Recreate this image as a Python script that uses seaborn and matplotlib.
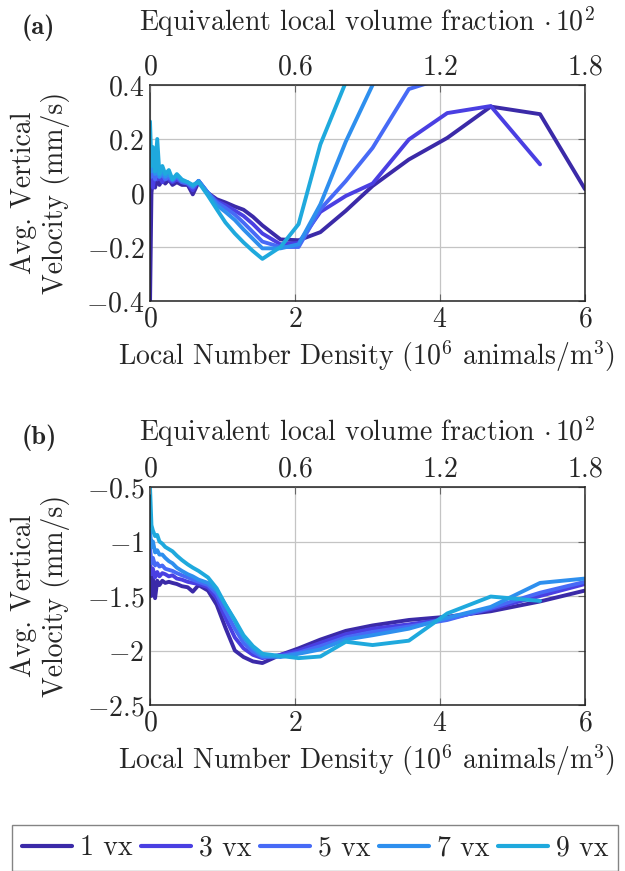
import numpy as np
import pandas as pd
import matplotlib
matplotlib.use("Agg")
import matplotlib.pyplot as plt
import seaborn as sns

# Local number density (10^6 animals/m^3), shared by every series
density = [0.0, 0.02, 0.04, 0.07, 0.1, 0.13, 0.17, 0.21, 0.26, 0.31, 0.37, 0.44,
           0.52, 0.59, 0.67, 0.8, 0.92, 1.04, 1.17, 1.29, 1.42, 1.55, 1.8, 2.05,
           2.35, 2.7, 3.07, 3.57, 4.1, 4.7, 5.38, 6.0]

series_names = ["1 vx", "3 vx", "5 vx", "7 vx", "9 vx"]
series_colors = ["#3b2aa8", "#4a3fe2", "#476af6", "#2e8fee", "#1fa9dd"]

nan = np.nan

# (a) average vertical velocity, mm/s
vel_a_1 = [-0.42, 0.0, 0.05, 0.02, 0.06, 0.03, 0.05, 0.035, 0.05, 0.03, 0.04, 0.03,
           0.03, -0.005, 0.04, 0.0, -0.023, -0.035, -0.05, -0.062, -0.088, -0.12,
           -0.172, -0.175, -0.145, -0.066, 0.026, 0.124, 0.204, 0.32, 0.292, 0.014]
vel_a_3 = [0.03, 0.07, 0.02, 0.08, 0.05, 0.06, 0.04, 0.06, 0.05, 0.04, 0.05, 0.04,
           0.035, 0.01, 0.045, 0.0, -0.03, -0.045, -0.065, -0.085, -0.115, -0.15,
           -0.19, -0.185, -0.07, -0.011, 0.035, 0.198, 0.296, 0.322, 0.106, nan]
vel_a_5 = [0.1, 0.06, 0.1, 0.05, 0.08, 0.06, 0.07, 0.05, 0.06, 0.045, 0.06, 0.04,
           0.035, 0.02, 0.045, 0.0, -0.035, -0.055, -0.08, -0.11, -0.145, -0.18,
           -0.2, -0.2, -0.06, 0.044, 0.167, 0.385, 0.43, nan, nan, nan]
vel_a_7 = [0.15, 0.08, 0.13, 0.07, 0.09, 0.06, 0.08, 0.06, 0.07, 0.05, 0.065, 0.045,
           0.04, 0.025, 0.045, 0.0, -0.045, -0.07, -0.1, -0.135, -0.17, -0.205,
           -0.205, -0.19, -0.042, 0.19, 0.40, 0.65, nan, nan, nan, nan]
vel_a_9 = [0.265, 0.1, 0.17, 0.08, 0.2, 0.07, 0.1, 0.07, 0.085, 0.05, 0.07, 0.05,
           0.04, 0.03, 0.04, -0.01, -0.06, -0.109, -0.15, -0.183, -0.215, -0.244,
           -0.2, -0.115, 0.18, 0.41, 0.65, nan, nan, nan, nan, nan]

# (b) average vertical velocity, mm/s
vel_b_1 = [-1.15, -1.5, -1.33, -1.52, -1.36, -1.4, -1.36, -1.38, -1.37, -1.38, -1.39,
           -1.41, -1.42, -1.46, -1.4, -1.45, -1.58, -1.79, -2.0, -2.06, -2.1, -2.115,
           -2.04, -1.98, -1.9, -1.82, -1.77, -1.72, -1.69, -1.64, -1.55, -1.45]
vel_b_3 = [-1.2, -1.3, -1.25, -1.33, -1.28, -1.32, -1.29, -1.3, -1.32, -1.31, -1.34,
           -1.35, -1.37, -1.38, -1.39, -1.42, -1.52, -1.7, -1.88, -1.98, -2.04, -2.07,
           -2.04, -2.0, -1.93, -1.85, -1.8, -1.76, -1.71, -1.62, -1.5, -1.39]
vel_b_5 = [-1.05, -1.2, -1.15, -1.22, -1.2, -1.23, -1.22, -1.25, -1.26, -1.27, -1.29,
           -1.31, -1.33, -1.35, -1.37, -1.4, -1.48, -1.64, -1.8, -1.93, -2.01, -2.06,
           -2.05, -2.02, -1.96, -1.88, -1.83, -1.78, -1.72, -1.61, -1.47, -1.37]
vel_b_7 = [-0.9, -1.05, -1.0, -1.1, -1.08, -1.12, -1.12, -1.15, -1.18, -1.2, -1.24,
           -1.27, -1.3, -1.32, -1.35, -1.38, -1.45, -1.58, -1.73, -1.88, -1.98, -2.05,
           -2.06, -2.03, -1.99, -1.9, -1.86, -1.8, -1.7, -1.6, -1.38, -1.34]
vel_b_9 = [-0.5, -0.85, -0.9, -0.95, -0.94, -1.0, -1.02, -1.05, -1.07, -1.09, -1.13,
           -1.17, -1.21, -1.24, -1.27, -1.33, -1.43, -1.58, -1.72, -1.86, -1.96, -2.03,
           -2.05, -2.07, -2.055, -1.92, -1.95, -1.91, -1.66, -1.505, -1.545, nan]

density_ticks = [0, 2, 4, 6]
fraction_labels = ["0", "0.6", "1.2", "1.8"]
yticks_a = [-0.4, -0.2, 0.0, 0.2, 0.4]
yticks_b = [-2.5, -2.0, -1.5, -1.0, -0.5]


def long_table(columns):
    frames = []
    for name, vals in zip(series_names, columns):
        frames.append(pd.DataFrame({"density": density, "velocity": vals, "smoothing": name}))
    return pd.concat(frames, ignore_index=True).dropna()


data_a = long_table([vel_a_1, vel_a_3, vel_a_5, vel_a_7, vel_a_9])
data_b = long_table([vel_b_1, vel_b_3, vel_b_5, vel_b_7, vel_b_9])

sns.set_theme(style="white")
plt.rcParams.update({
    "font.family": ["cmr10", "DejaVu Serif"],
    "mathtext.fontset": "cm",
    "axes.unicode_minus": False,
    "axes.formatter.use_mathtext": True,
})

W, H = 625, 871
fig = plt.figure(figsize=(W / 100, H / 100), dpi=100)

FS = 20
FS_TICK = 20
palette = dict(zip(series_names, series_colors))


def fmt(v):
    return "$" + f"{v:g}" + "$"


def make_panel(rect, data, yticks, ylim, tag, top_y, bottom_y):
    ax = fig.add_axes(rect)
    sns.lineplot(data=data, x="density", y="velocity", hue="smoothing",
                 hue_order=series_names, palette=palette, linewidth=2.8,
                 estimator=None, sort=True, legend=True, ax=ax)
    ax.set_xlim(0, 6)
    ax.set_ylim(*ylim)
    ax.set_xticks(density_ticks)
    ax.set_xticklabels([fmt(v) for v in density_ticks], fontsize=FS_TICK)
    ax.set_yticks(yticks)
    ax.set_yticklabels([fmt(v) for v in yticks], fontsize=FS_TICK)
    ax.set_xlabel("")
    ax.set_ylabel("")
    ax.grid(True, color="#c4c4c4", linewidth=0.9)
    ax.set_axisbelow(True)
    ax.tick_params(direction="in", length=5, width=0.8, color="#666666",
                   right=True, pad=4)
    for sp in ax.spines.values():
        sp.set_color("#222222")
        sp.set_linewidth(1.1)

    top = ax.twiny()
    top.set_xlim(0, 6)
    top.set_xticks(density_ticks)
    top.set_xticklabels(["$" + s + "$" for s in fraction_labels], fontsize=FS_TICK)
    top.tick_params(direction="in", length=5, width=0.8, color="#666666", pad=3)
    for sp in top.spines.values():
        sp.set_visible(False)

    handles, labels = ax.get_legend_handles_labels()
    ax.get_legend().remove()

    # panel letter, top and bottom axis titles, y-axis title
    fig.text(22 / W, 1 - (top_y + 6) / H, tag, fontsize=FS - 1, family="cmb10",
             ha="left", va="center")
    fig.text(367 / W, 1 - top_y / H,
             r"Equivalent local volume fraction $\cdot\, 10^2$",
             fontsize=FS, ha="center", va="center")
    fig.text(367 / W, 1 - bottom_y / H,
             r"Local Number Density ($10^6$ animals/m$^3$)",
             fontsize=FS, ha="center", va="center")
    mid = rect[1] + rect[3] / 2
    fig.text(40 / W, mid, "Avg. Vertical\nVelocity (mm/s)", fontsize=FS,
             rotation=90, ha="center", va="center", multialignment="center",
             linespacing=1.2)
    return handles, labels


handles, labels = make_panel([150 / W, 1 - 301 / H, 435 / W, 216 / H], data_a,
                             yticks_a, (-0.4, 0.4), "(a)", 22, 356)
make_panel([150 / W, 1 - 705 / H, 435 / W, 218 / H], data_b,
           yticks_b, (-2.5, -0.5), "(b)", 432, 760)

leg = fig.legend(handles, labels, loc="lower left", ncol=5,
                 bbox_to_anchor=(12 / W, 1 - 871 / H), frameon=True,
                 fontsize=FS, handlelength=1.8, handletextpad=0.3,
                 columnspacing=0.3, borderpad=0.35, borderaxespad=0.0,
                 fancybox=False)
leg.get_frame().set_edgecolor("#666666")
leg.get_frame().set_linewidth(1.0)
for line in leg.get_lines():
    line.set_linewidth(3.0)

fig.savefig("out.png", dpi=100)
